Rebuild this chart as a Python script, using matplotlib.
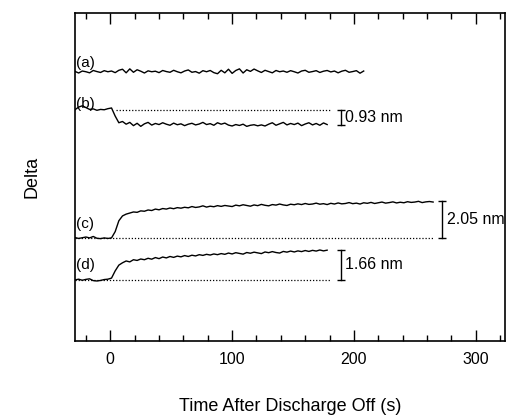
import numpy as np
import matplotlib
matplotlib.use("Agg")
import matplotlib.pyplot as plt
from matplotlib.ticker import MultipleLocator

plt.rcParams['font.family'] = ['Liberation Sans', 'DejaVu Sans']

# time grids (s), sampled every 3 s
t_a = np.arange(-29, 209, 3)   # 80 pts
t_b = np.arange(-29, 179, 3)   # 70 pts
t_c = np.arange(-29, 266, 3)   # 99 pts
t_d = np.arange(-29, 179, 3)   # 70 pts

# delta relative to each trace baseline (nm)
delta_a = [0.02, -0.07, 0.04, 0.00, -0.06, 0.07, 0.01, -0.04, 0.06, 0.00,
           0.04, -0.05, 0.08, 0.14, -0.06, 0.16, -0.03, 0.11, 0.03, -0.07,
           0.05, 0.00, 0.03, -0.05, 0.07, 0.01, -0.03, 0.08, 0.00, -0.06,
           0.04, 0.10, -0.03, 0.01, -0.08, 0.06, 0.00, 0.07, -0.05, -0.11,
           0.08, -0.06, 0.14, -0.09, 0.07, 0.16, -0.07, 0.11, 0.02, 0.15,
           0.05, -0.04, 0.08, 0.01, -0.06, 0.07, 0.00, 0.04, -0.03, 0.06,
           0.00, -0.07, 0.04, 0.08, -0.03, 0.01, 0.06, -0.04, 0.03, 0.07,
           -0.01, 0.04, -0.06, 0.03, 0.08, -0.03, 0.01, 0.06, -0.08, 0.04]
delta_b = [0.00, 0.15, 0.22, 0.12, 0.02, 0.05, -0.03, 0.02, 0.00, 0.06,
           0.10, -0.35, -0.72, -0.65, -0.80, -0.70, -0.88, -0.75, -0.92, -0.78,
           -0.70, -0.85, -0.76, -0.82, -0.72, -0.80, -0.86, -0.74, -0.83, -0.78,
           -0.88, -0.80, -0.75, -0.84, -0.79, -0.70, -0.82, -0.77, -0.86, -0.72,
           -0.80, -0.74, -0.85, -0.90, -0.82, -0.87, -0.80, -0.92, -0.86, -0.83,
           -0.89, -0.84, -0.90, -0.80, -0.72, -0.86, -0.78, -0.70, -0.84, -0.76,
           -0.82, -0.74, -0.88, -0.79, -0.72, -0.84, -0.76, -0.86, -0.73, -0.82]
delta_c = [0.02, -0.03, 0.01, 0.05, 0.00, 0.08, -0.02, -0.04, 0.00, -0.03,
           0.00, 0.35, 0.95, 1.22, 1.32, 1.38, 1.44, 1.42, 1.50, 1.48,
           1.55, 1.52, 1.60, 1.56, 1.63, 1.60, 1.66, 1.62, 1.68, 1.65,
           1.70, 1.67, 1.74, 1.69, 1.72, 1.78, 1.71, 1.76, 1.73, 1.79,
           1.75, 1.80, 1.77, 1.74, 1.82, 1.78, 1.84, 1.80, 1.76, 1.83,
           1.79, 1.86, 1.81, 1.78, 1.85, 1.82, 1.88, 1.83, 1.80, 1.87,
           1.84, 1.89, 1.85, 1.91, 1.86, 1.88, 1.93, 1.87, 1.90, 1.85,
           1.92, 1.88, 1.94, 1.89, 1.91, 1.96, 1.90, 1.93, 1.88, 1.95,
           1.92, 1.97, 1.91, 1.95, 1.99, 1.93, 1.96, 2.00, 1.94, 1.98,
           1.95, 2.01, 1.97, 1.99, 2.03, 1.96, 2.00, 2.02, 1.99]
delta_d = [0.00, 0.04, -0.02, 0.03, 0.06, -0.04, -0.06, -0.03, 0.02, 0.04,
           0.10, 0.50, 0.82, 0.95, 1.05, 1.00, 1.12, 1.08, 1.16, 1.12,
           1.20, 1.15, 1.24, 1.18, 1.27, 1.22, 1.30, 1.25, 1.32, 1.28,
           1.35, 1.30, 1.37, 1.33, 1.40, 1.36, 1.42, 1.38, 1.44, 1.40,
           1.46, 1.42, 1.49, 1.44, 1.51, 1.47, 1.43, 1.52, 1.48, 1.54,
           1.50, 1.46, 1.55, 1.51, 1.57, 1.52, 1.49, 1.58, 1.54, 1.60,
           1.55, 1.61, 1.57, 1.63, 1.58, 1.64, 1.60, 1.66, 1.61, 1.65]

labels = ['(a)', '(b)', '(c)', '(d)']
offsets = [14.94, 12.83, 5.72, 3.39]   # vertical stacking of the traces
steps = ['0.93 nm', '2.05 nm', '1.66 nm']

fig = plt.figure(figsize=(5.08, 4.15), dpi=100)
ax = fig.add_axes([0.1476, 0.1783, 0.8465, 0.7904])

series = [(t_a, delta_a), (t_b, delta_b), (t_c, delta_c), (t_d, delta_d)]
for (t, d), off, lab, ly in zip(series, offsets, labels, [15.44, 13.17, 6.5, 4.22]):
    ax.plot(t, np.array(d) + off, color='black', lw=1.0)
    ax.text(-28, ly, lab, fontsize=11, ha='left', va='center')

# dotted reference lines
ax.plot([5, 180], [offsets[1], offsets[1]], color='black', lw=0.9, ls=(0, (1, 1.5)))
ax.plot([-29, 265], [offsets[2], offsets[2]], color='black', lw=0.9, ls=(0, (1, 1.5)))
ax.plot([-29, 180], [offsets[3], offsets[3]], color='black', lw=0.9, ls=(0, (1, 1.5)))

# step size bars
bars = [(189, offsets[1], offsets[1] - 0.85),
        (272.5, offsets[2] + 2.05, offsets[2]),
        (189, offsets[3] + 1.66, offsets[3])]
for (x, y0, y1), s in zip(bars, steps):
    ax.plot([x, x], [y0, y1], color='black', lw=1.0)
    ax.plot([x, x], [y0, y1], ls='none', marker='_', ms=6, mew=1.0, color='black')
    ax.text(x + 4, (y0 + y1) / 2, s, fontsize=11.5, ha='left', va='center')

ax.set_xlim(-29, 324)
ax.set_ylim(0, 18.2)
ax.set_yticks([])
ax.xaxis.set_major_locator(MultipleLocator(100))
ax.xaxis.set_minor_locator(MultipleLocator(20))
ax.tick_params(axis='x', which='both', direction='in', top=True, labelsize=11.5, pad=8)
ax.tick_params(axis='x', which='major', length=8, width=1)
ax.tick_params(axis='x', which='minor', length=4, width=1)
for sp in ax.spines.values():
    sp.set_linewidth(1.2)

ax.set_xlabel('Time After Discharge Off (s)', fontsize=13, labelpad=22)
ax.set_ylabel('Delta', fontsize=13, labelpad=25)

fig.savefig('out.png', dpi=100)
